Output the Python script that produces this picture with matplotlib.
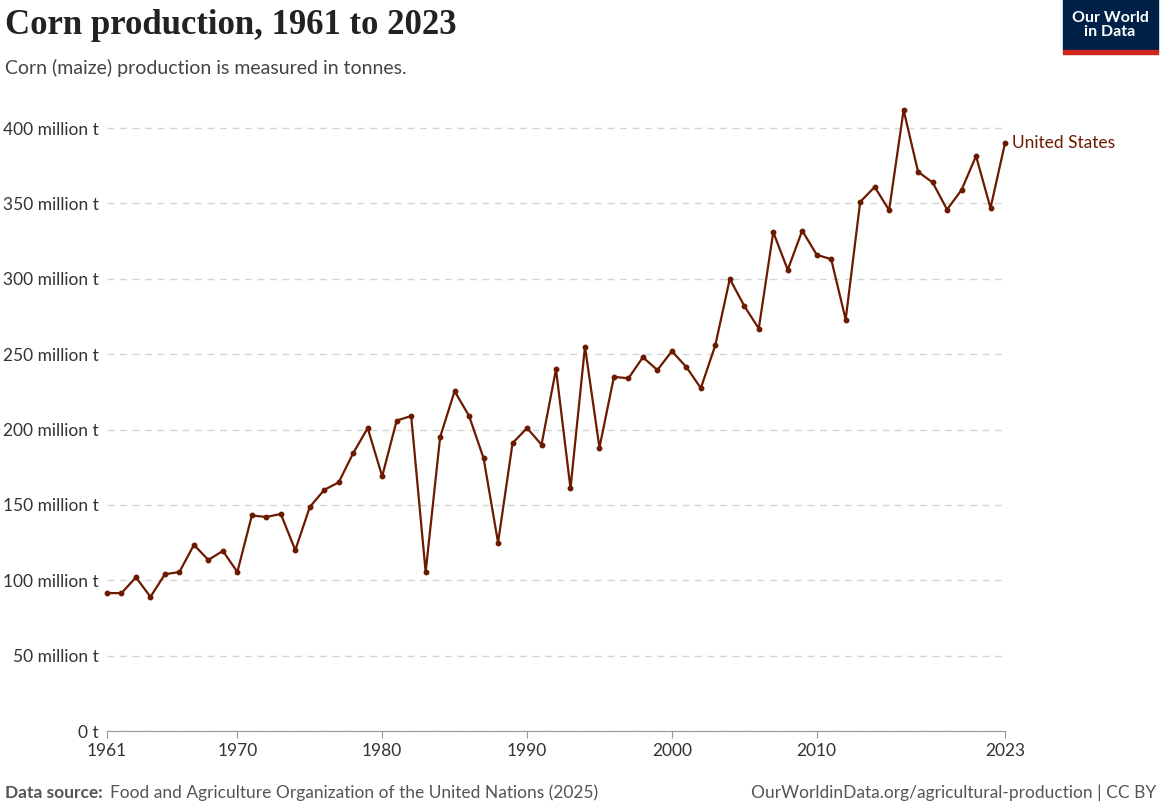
import matplotlib.pyplot as plt
import matplotlib.patches as patches

plt.rcParams["font.family"] = ["Lato", "DejaVu Sans"]

years = list(range(1961, 2024))
production_mt = [91.5, 91.5, 102, 89, 104, 105.5, 123.5, 113.5, 119.5, 105.5,
                 143, 142, 144, 120, 148.6, 160, 165, 184.4, 201, 169,
                 206, 209, 105.5, 195, 225.5, 209, 181, 125, 191, 201,
                 190, 240, 161, 255, 188, 235, 234, 248, 239.5, 252,
                 241.5, 227.5, 256, 300, 282, 267, 331, 306, 332, 316,
                 313, 273, 351, 361, 345.6, 412, 371, 364, 346, 359,
                 381.5, 347, 390]
y_ticks = [0, 50, 100, 150, 200, 250, 300, 350, 400]
y_labels = ["0 t"] + [f"{v} million t" for v in y_ticks[1:]]
x_ticks = [1961, 1970, 1980, 1990, 2000, 2010, 2023]

color = "#6b1a00"
fig = plt.figure(figsize=(11.61, 8.06), dpi=100)
ax = fig.add_axes([107 / 1161, 1 - 731 / 806, 898 / 1161, (731 - 98) / 806])
ax.plot(years, production_mt, color=color, lw=1.6, marker="o", ms=3.2, clip_on=False)
ax.set_xlim(1961, 2023)
ax.set_ylim(0, 420)
ax.set_yticks(y_ticks)
ax.set_yticklabels(y_labels, fontsize=12.5, color="#333333")
ax.set_xticks(x_ticks)
ax.set_xticklabels([str(x) for x in x_ticks], fontsize=12.5, color="#333333")
ax.tick_params(axis="y", length=0, pad=6)
ax.tick_params(axis="x", length=5, color="#999999")
for s in ["top", "right", "left"]:
    ax.spines[s].set_visible(False)
ax.spines["bottom"].set_color("#999999")
ax.yaxis.grid(True, linestyle=(0, (5, 4)), color="#d5d5d5", lw=1)
ax.set_axisbelow(True)
ax.text(2023.5, 390, "United States", color=color, fontsize=12.5, va="center")

fig.text(5 / 1161, 1 - 25 / 806, "Corn production, 1961 to 2023", fontsize=25,
         family=["Liberation Serif"], weight="bold", color="#222222", va="center")
fig.text(5 / 1161, 1 - 68 / 806, "Corn (maize) production is measured in tonnes.",
         fontsize=14, color="#444444", va="center")
fig.text(5 / 1161, 1 - 793 / 806, "Data source:", fontsize=12.5, weight="bold",
         color="#555555", va="center")
fig.text(110 / 1161, 1 - 793 / 806,
         "Food and Agriculture Organization of the United Nations (2025)",
         fontsize=12.5, color="#555555", va="center")
fig.text(1 - 5 / 1161, 1 - 793 / 806, "OurWorldinData.org/agricultural-production | CC BY",
         fontsize=12.5, color="#555555", va="center", ha="right")

fig.patches.append(patches.Rectangle((1063 / 1161, 1 - 50 / 806), 95 / 1161, 50 / 806,
                                     transform=fig.transFigure, color="#002147"))
fig.patches.append(patches.Rectangle((1063 / 1161, 1 - 54 / 806), 95 / 1161, 4 / 806,
                                     transform=fig.transFigure, color="#ce261e"))
fig.text(1110 / 1161, 1 - 25 / 806, "Our World\nin Data", color="white", fontsize=11.5,
         weight="bold", ha="center", va="center", linespacing=1.0)

fig.savefig("out.png", dpi=100)
